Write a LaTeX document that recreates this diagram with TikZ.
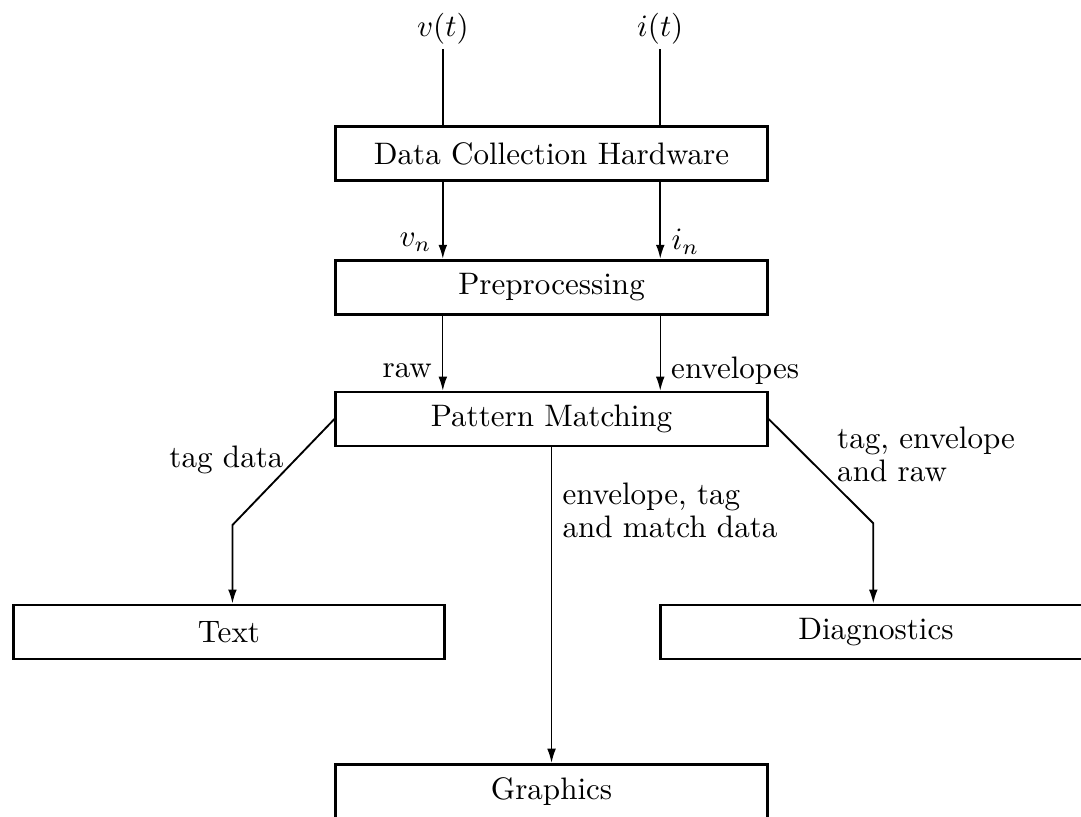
\documentclass[tikz,border=0pt]{standalone}
\usetikzlibrary{arrows.meta}
\begin{document}
\begin{tikzpicture}[>={Latex[length=4.5pt,width=2.8pt]},every node/.style={font=\fontsize{10}{10.5}\selectfont},box/.style={draw,line width=0.9pt,minimum width=4.88cm,minimum height=0.61cm,inner sep=2pt}]
\useasboundingbox (0,0) rectangle (12.23,-9.24);
\clip (0,0) rectangle (12.23,-9.24);
\node[inner sep=1.5pt] (vt) at (5.01,-0.32) {$v(t)$};
\node[inner sep=1.5pt] (it) at (7.47,-0.32) {$i(t)$};
\node[box] (dch) at (6.24,-1.74) {Data Collection Hardware};
\node[box] (pre) at (6.24,-3.25) {Preprocessing};
\node[box] (pm) at (6.24,-4.74) {Pattern Matching};
\node[box] (text) at (2.59,-7.15) {Text};
\node[box] (diag) at (9.91,-7.15) {Diagnostics};
\node[box] (graph) at (6.24,-8.95) {Graphics};
\coordinate (tagbend) at (2.63,-5.94);
\coordinate (rawbend) at (9.88,-5.92);
\draw[semithick] (vt) -- (vt |- dch.north);
\draw[semithick] (it) -- (it |- dch.north);
\draw[->,semithick] (vt |- dch.south) -- (vt |- pre.north) node[pos=0.78,left] {$v_n$};
\draw[->,semithick] (it |- dch.south) -- (it |- pre.north) node[pos=0.78,right] {$i_n$};
\draw[->,thin] (vt |- pre.south) -- (vt |- pm.north) node[pos=0.74,left] {raw};
\draw[->,thin] (it |- pre.south) -- (it |- pm.north) node[pos=0.74,right] {envelopes};
\draw[->,semithick] (pm.west) -- (tagbend) node[pos=0.39,left] {tag data} -- (tagbend |- text.north);
\draw[->,thin] (pm.south) -- (graph.north) node[pos=0.2,right,align=left] {envelope, tag\\and match data};
\draw[->,semithick] (pm.east) -- (rawbend) node[pos=0.34,right=7pt,align=left] {tag, envelope\\and raw} -- (rawbend |- diag.north);
\end{tikzpicture}
\end{document}
